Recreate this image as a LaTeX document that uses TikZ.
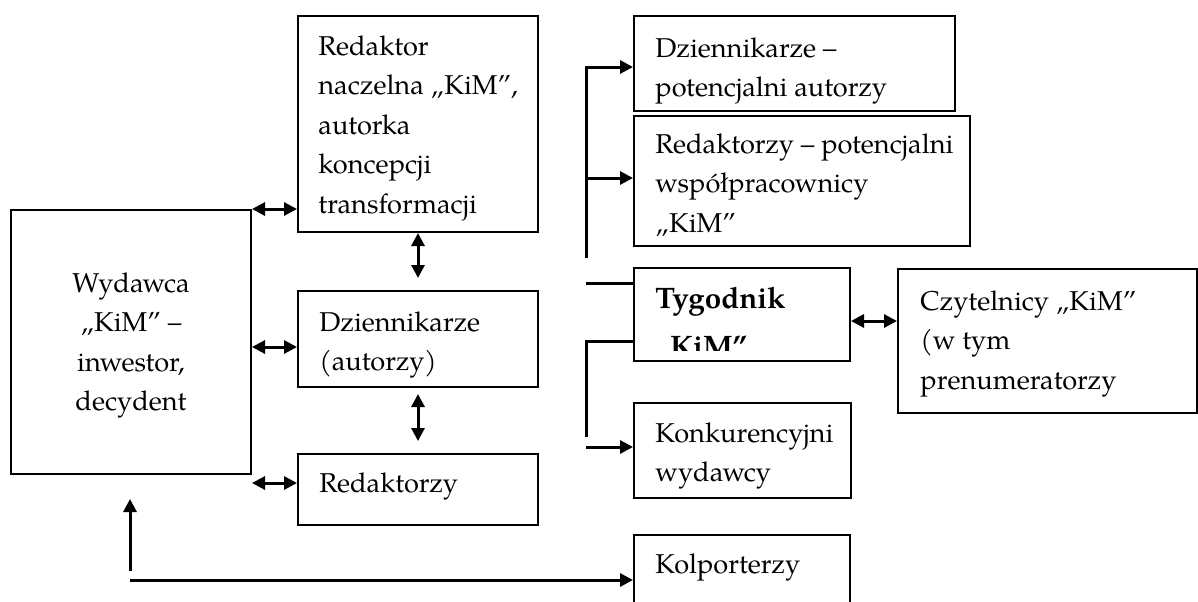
\documentclass[tikz,border=0pt]{standalone}
\usepackage{fontspec}
\setmainfont{TeX Gyre Pagella}
\usetikzlibrary{arrows.meta,fit}
\begin{document}
\begin{tikzpicture}[x=0.5pt,y=-0.5pt]
\tikzset{
 box/.style={draw, line width=1pt, inner sep=0pt},
 txt/.style={inner sep=0pt, anchor=base west, align=left, font=\fontsize{13.6}{19.75}\selectfont},
 ctxt/.style={txt, anchor=base, align=center},
 conn/.style={line width=1.5pt},
 arr/.style={conn, -{Triangle[length=6.5pt,width=6.5pt]}},
 dbl/.style={conn, {Triangle[length=6.5pt,width=6.5pt]}-{Triangle[length=6.5pt,width=6.5pt]}},
}
\useasboundingbox (0,0) rectangle (1198,601);
\clip (0,0) rectangle (1198,601);
% boxes
\node[box, fit={(11,210) (251,474)}] (w) {};
\node[box, fit={(298,16) (538,232)}] (rn) {};
\node[box, fit={(298,291) (538,387)}] (dz) {};
\node[box, fit={(298,454) (538,525)}] (red) {};
\node[box, fit={(634,16) (955,111)}] (dp) {};
\node[box, fit={(634,116) (970,246)}] (rp) {};
\node[box, fit={(634,268) (850,361)}] (tyg) {};
\node[box, fit={(634,403) (851,498)}] (kon) {};
\node[box, fit={(634,535) (850,615)}] (kol) {};
\node[box, fit={(898,269) (1197,413)}] (czy) {};
% texts (anchor = baseline of the last line)
\node[ctxt] (tw) at (131,410.5) {Wydawca\\„KiM” –\\inwestor,\\decydent};
\node[txt] (trn) at (318,213) {Redaktor\\naczelna „KiM”,\\autorka\\koncepcji\\transformacji};
\node[txt] (tdz) at (319,370.5) {Dziennikarze\\(autorzy)};
\node[txt] (tred) at (319,492) {Redaktorzy};
\node[txt] (tdp) at (655,96.5) {Dziennikarze –\\potencjalni autorzy};
\node[txt] (trp) at (655,232) {Redaktorzy – potencjalni\\współpracownicy\\„KiM”};
\begin{scope}
\clip (634,268) rectangle (850,350);
\node[txt, font=\fontsize{14.8}{24}\selectfont\bfseries] (ttyg) at (655,356) {Tygodnik\\„KiM”};
\end{scope}
\node[txt] (tkon) at (655,481.5) {Konkurencyjni\\wydawcy};
\node[txt] (tkol) at (655,573) {Kolporterzy};
\node[txt] (tczy) at (920,389) {Czytelnicy „KiM”\\(w tym\\prenumeratorzy};
% connectors left
\coordinate (y2) at (0,347);
\coordinate (y3) at (0,483);
\draw[dbl] (w.north east) -- (rn.west |- w.north east);
\draw[dbl] (w.east |- y2) -- (dz.west |- y2);
\draw[dbl] (w.east |- y3) -- (red.west |- y3);
\coordinate (v1) at (418,278);
\coordinate (v2a) at (418,394);
\coordinate (v2b) at (418,441);
\draw[dbl] (rn.south) -- (v1);
\draw[dbl] (v2a) -- (v2b);
% right column
\coordinate (bt) at (586,67);
\coordinate (bb) at (586,258);
\coordinate (bm) at (586,178);
\draw[arr] (bb) -- (bt) -- (dp.west |- bt);
\draw[arr] (bm) -- (rp.west |- bm);
\coordinate (l1) at (586,283);
\draw[conn] (l1) -- (tyg.west |- l1);
\coordinate (l2) at (586,341);
\coordinate (l3) at (586,437);
\draw[conn] (tyg.west |- l2) -- (l2) -- (l3);
\coordinate (l4) at (586,447);
\draw[arr] (l4) -- (kon.west |- l4);
\coordinate (c1) at (0,321);
\draw[dbl] (tyg.east |- c1) -- (czy.west |- c1);
% bottom
\coordinate (u1) at (130,571);
\coordinate (u2) at (130,499);
\draw[arr] (u1) -- (u2);
\coordinate (h1) at (130,580);
\draw[arr] (h1) -- (kol.west |- h1);
\end{tikzpicture}
\end{document}
